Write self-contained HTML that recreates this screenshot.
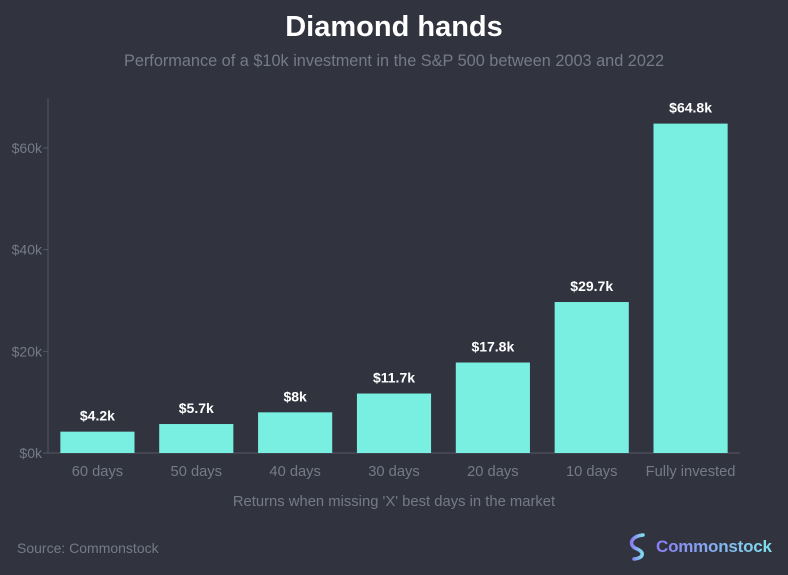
<!DOCTYPE html>
<html><head><meta charset="utf-8"><style>
body{margin:0;width:788px;height:570px;background:#31333f;font-family:"Liberation Sans",sans-serif;overflow:hidden}
</style></head><body>
<svg width="788" height="570">
<defs><linearGradient id="g" x1="0" x2="1"><stop offset="0" stop-color="#8a7cf4"/><stop offset="1" stop-color="#7ee0ec"/></linearGradient></defs>
<rect width="788" height="570" fill="#31333f"/>
<text x="394" y="36" text-anchor="middle" fill="#fff" font-size="29" font-weight="bold">Diamond hands</text>
<text x="394" y="66" text-anchor="middle" fill="#767a88" font-size="16.3">Performance of a $10k investment in the S&amp;P 500 between 2003 and 2022</text>
<g id="plot"></g>
<text x="394" y="506" text-anchor="middle" fill="#767a88" font-size="14.8">Returns when missing 'X' best days in the market</text>
<text x="17" y="553" fill="#767a88" font-size="14">Source: Commonstock</text>
<g>
<path d="M643 535 C631 536 628 545 636 548.5 C645 552 644 558 634 559" stroke="url(#g)" stroke-width="3.5" fill="none" stroke-linecap="round"/>
<text x="656" y="552" fill="url(#g)" font-size="17" font-weight="bold" textLength="116">Commonstock</text>
</g>
</svg>
<script>
const categories=["60 days","50 days","40 days","30 days","20 days","10 days","Fully invested"];
const values=[4.2,5.7,8,11.7,17.8,29.7,64.8];
const valueLabels=["$4.2k","$5.7k","$8k","$11.7k","$17.8k","$29.7k","$64.8k"];
const yTicks=[0,20,40,60];
const yTickLabels=["$0k","$20k","$40k","$60k"];
const ns="http://www.w3.org/2000/svg",g=document.getElementById('plot');
const x0=48,x1=740,y0=453,yTop=148;
const y=v=>y0-(v/60)*(y0-yTop);
const step=(x1-x0)/categories.length,bw=step*0.75;
function mk(t,a,txt){const e=document.createElementNS(ns,t);for(const k in a)e.setAttribute(k,a[k]);if(txt!=null)e.textContent=txt;g.appendChild(e);return e;}
let e=mk('line',{x1:x0,x2:x0,y1:98,y2:y0,stroke:'#555866'});


e=mk('line',{x1:x0,x2:x1,y1:y0,y2:y0,stroke:'#555866'});


yTicks.forEach((t,i)=>{
 const l=mk('line',{x1:x0-5,x2:x0,y1:y(t),y2:y(t),stroke:'#555866'});
 
 
 const tx=mk('text',{x:x0-6,y:y(t)+5,'text-anchor':'end',fill:'#767a88','font-size':14},yTickLabels[i]);
 
 
});
categories.forEach((c,i)=>{
 const cx=x0+step*(i+0.5);
 const r=mk('rect',{x:cx-bw/2,y:y(values[i]),width:bw,height:y0-y(values[i]),fill:'#79efe1'});
 
 
 const v=mk('text',{x:cx,y:y(values[i])-11,'text-anchor':'middle',fill:'#fff','font-size':14,'font-weight':'bold'},valueLabels[i]);
 
 
 const xl=mk('text',{x:cx,y:476,'text-anchor':'middle',fill:'#767a88','font-size':14.7},c);
 
 
});
</script>
</body></html>
